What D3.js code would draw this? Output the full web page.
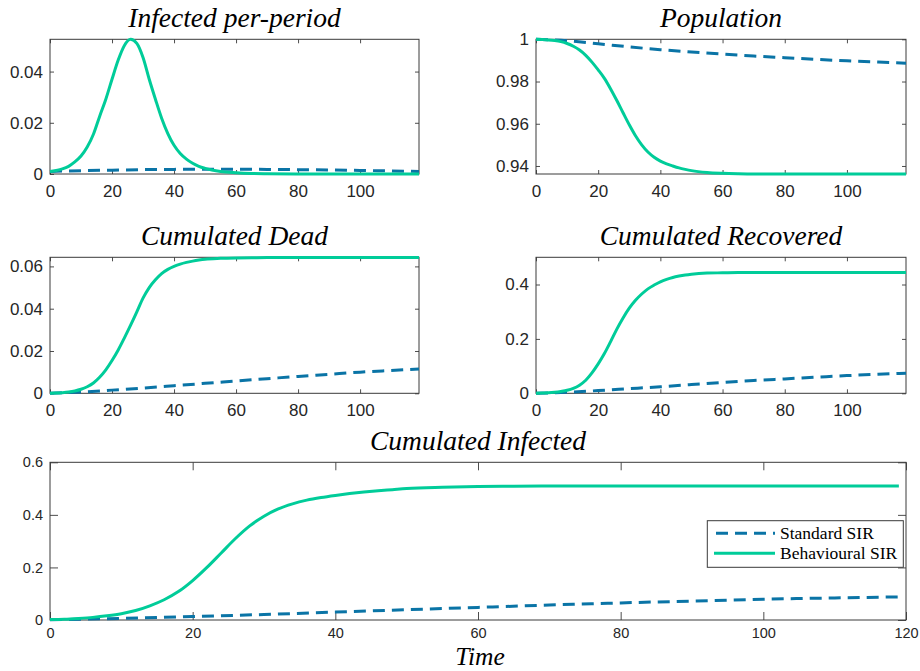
<!DOCTYPE html>
<html lang="en">
<head>
<meta charset="UTF-8">
<title>Standard vs Behavioural SIR</title>
<script src="https://cdn.jsdelivr.net/npm/d3@7"></script>
<style>
  body { margin: 0; background: #fff; }
  svg { display: block; }
  .tick text { font-family: "Liberation Sans", Arial, sans-serif; fill: #262626; }
  .tick line { stroke: #4d4d4d; }
  .title { font-family: "Liberation Serif", "DejaVu Serif", serif; font-style: italic; fill: #000; }
  .legend text { font-family: "Liberation Serif", "DejaVu Serif", serif; font-size: 17.5px; fill: #000; }
</style>
</head>
<body>
<div id="chart"></div>
<script>
// time grids (periods)
const tBeh = [0, 2, 4, 6, 8, 10, 12, 14, 16, 18, 20, 22, 24, 26, 28, 30, 32, 34, 36, 38,
              40, 42, 44, 46, 48, 50, 55, 60, 65, 70, 80, 90, 100, 110, 119]
const tStd = [0, 10, 20, 30, 40, 50, 60, 70, 80, 90, 100, 110, 119]

// Behavioural SIR (green)
const behInfected = [0.0010, 0.0014, 0.0020, 0.0030, 0.0047, 0.0070, 0.0105, 0.0155, 0.0225, 0.0292,
                     0.0370, 0.0445, 0.0502, 0.0526, 0.0510, 0.0455, 0.0370, 0.0292, 0.0218, 0.0158,
                     0.0112, 0.0080, 0.0058, 0.0042, 0.0030, 0.0022, 0.0010, 0.0005, 0.0002, 0.0001,
                     0.00003, 0.00001, 0, 0, 0]
const behPopulation = [1.0000, 0.9999, 0.9997, 0.9994, 0.9989, 0.9980, 0.9967, 0.9949, 0.9924, 0.9892,
                       0.9855, 0.9815, 0.9765, 0.9710, 0.9652, 0.9595, 0.9543, 0.9500, 0.9466, 0.9441,
                       0.9423, 0.9410, 0.9400, 0.9391, 0.9384, 0.9378, 0.9369, 0.9365, 0.9363, 0.9362,
                       0.9362, 0.9362, 0.9362, 0.9362, 0.9362]
const behDead = [0, 0.0001, 0.0003, 0.0006, 0.0011, 0.0019, 0.0031, 0.0049, 0.0076, 0.0111,
                 0.0155, 0.0205, 0.0262, 0.0322, 0.0385, 0.0450, 0.0500, 0.0537, 0.0566, 0.0586,
                 0.0600, 0.0611, 0.0619, 0.0625, 0.0630, 0.0634, 0.0638, 0.0640, 0.0641, 0.0642,
                 0.0642, 0.0642, 0.0642, 0.0642, 0.0642]
const behRecovered = [0, 0.001, 0.002, 0.004, 0.007, 0.011, 0.018, 0.030, 0.048, 0.075,
                      0.108, 0.146, 0.190, 0.236, 0.277, 0.313, 0.342, 0.365, 0.384, 0.398,
                      0.410, 0.419, 0.426, 0.431, 0.435, 0.438, 0.442, 0.443, 0.444, 0.444,
                      0.444, 0.444, 0.444, 0.444, 0.444]
const behCumInfected = [0.002, 0.003, 0.006, 0.010, 0.016, 0.024, 0.036, 0.054, 0.077, 0.108,
                        0.150, 0.200, 0.255, 0.310, 0.358, 0.395, 0.423, 0.442, 0.456, 0.466,
                        0.474, 0.481, 0.487, 0.492, 0.496, 0.500, 0.505, 0.508, 0.509, 0.510,
                        0.510, 0.510, 0.510, 0.510, 0.510]

// Standard SIR (blue dashed)
const stdInfected = [0.0010, 0.0013, 0.0015, 0.0017, 0.0018, 0.0019, 0.0019, 0.0018, 0.0017, 0.0016, 0.0014, 0.0012, 0.0010]
const stdPopulation = [1.0000, 0.9993, 0.9979, 0.9964, 0.9951, 0.9940, 0.9930, 0.9921, 0.9913, 0.9905, 0.9898, 0.9892, 0.9887]
const stdDead = [0, 0.0006, 0.0015, 0.0025, 0.0036, 0.0047, 0.0058, 0.0069, 0.0080, 0.0090, 0.0100, 0.0108, 0.0115]
const stdRecovered = [0, 0.004, 0.010, 0.017, 0.024, 0.032, 0.040, 0.047, 0.053, 0.059, 0.065, 0.070, 0.074]
const stdCumInfected = [0.001, 0.006, 0.013, 0.021, 0.030, 0.039, 0.048, 0.057, 0.065, 0.072, 0.079, 0.084, 0.088]

// tick values
const xTicksSmall = [0, 20, 40, 60, 80, 100]
const xTicksBig = [0, 20, 40, 60, 80, 100, 120]
const seriesNames = ['Standard SIR', 'Behavioural SIR']

const blue = '#0a74a6'
const green = '#00cc99'

let w = 920
let h = 671

let svg = d3.select('#chart').append('svg')
    .attr('width', w)
    .attr('height', h)

// panel layout
const panels = [
    {title: 'Infected per-period', beh: behInfected, std: stdInfected,
     x0: 50, x1: 419, y0: 39.3, y1: 174, xDom: [0, 119], yDom: [0, 0.0526],
     yTicks: [0, 0.02, 0.04], xTicks: xTicksSmall, tick: 4, fs: 17, pad: 10.5, titleY: 27},
    {title: 'Population', beh: behPopulation, std: stdPopulation,
     x0: 536, x1: 906, y0: 39.3, y1: 174, xDom: [0, 119], yDom: [0.9362, 1],
     yTicks: [0.94, 0.96, 0.98, 1], xTicks: xTicksSmall, tick: 4, fs: 17, pad: 10.5, titleY: 27},
    {title: 'Cumulated Dead', beh: behDead, std: stdDead,
     x0: 50, x1: 419, y0: 257.3, y1: 393.3, xDom: [0, 119], yDom: [0, 0.0643],
     yTicks: [0, 0.02, 0.04, 0.06], xTicks: xTicksSmall, tick: 4, fs: 17, pad: 10.5, titleY: 245},
    {title: 'Cumulated Recovered', beh: behRecovered, std: stdRecovered,
     x0: 536, x1: 906, y0: 257.3, y1: 393.3, xDom: [0, 119], yDom: [0, 0.5],
     yTicks: [0, 0.2, 0.4], xTicks: xTicksSmall, tick: 4, fs: 17, pad: 10.5, titleY: 245},
    {title: 'Cumulated Infected', beh: behCumInfected, std: stdCumInfected,
     x0: 50, x1: 906, y0: 462.3, y1: 620, xDom: [0, 120], yDom: [0, 0.6],
     yTicks: [0, 0.2, 0.4, 0.6], xTicks: xTicksBig, tick: 8, fs: 14.5, pad: 8, titleY: 450, legend: true}
]

const fmt = d3.format('~g')

panels.forEach(p => {
    let xScale = d3.scaleLinear().domain(p.xDom).range([p.x0, p.x1])
    let yScale = d3.scaleLinear().domain(p.yDom).range([p.y1, p.y0])
    let pw = p.x1 - p.x0
    let ph = p.y1 - p.y0

    let g = svg.append('g')

    // axes box background
    g.append('rect')
     .attr('x', p.x0).attr('y', p.y0)
     .attr('width', pw).attr('height', ph)
     .attr('fill', '#fff')

    // inside ticks, mirrored on all four sides
    g.append('g')
     .attr('transform', `translate(0, ${p.y1})`)
     .call(d3.axisBottom(xScale).tickValues(p.xTicks).tickFormat(fmt)
            .tickSize(-p.tick).tickSizeOuter(0).tickPadding(p.pad))
     .call(a => a.select('.domain').remove())
     .selectAll('text').attr('font-size', p.fs)
    g.append('g')
     .attr('transform', `translate(0, ${p.y0})`)
     .call(d3.axisTop(xScale).tickValues(p.xTicks).tickFormat('')
            .tickSize(-p.tick).tickSizeOuter(0))
     .call(a => a.select('.domain').remove())
    g.append('g')
     .attr('transform', `translate(${p.x0}, 0)`)
     .call(d3.axisLeft(yScale).tickValues(p.yTicks).tickFormat(fmt)
            .tickSize(-p.tick).tickSizeOuter(0).tickPadding(7))
     .call(a => a.select('.domain').remove())
     .selectAll('text').attr('font-size', p.fs)
    g.append('g')
     .attr('transform', `translate(${p.x1}, 0)`)
     .call(d3.axisRight(yScale).tickValues(p.yTicks).tickFormat('')
            .tickSize(-p.tick).tickSizeOuter(0))
     .call(a => a.select('.domain').remove())

    g.append('rect')
     .attr('x', p.x0).attr('y', p.y0)
     .attr('width', pw).attr('height', ph)
     .attr('fill', 'none')
     .attr('stroke', '#3a3a3a')
     .attr('stroke-width', 1)

    // lines
    let stdLine = d3.line()
        .x((d, i) => xScale(tStd[i]))
        .y(d => yScale(d))
        .curve(d3.curveMonotoneX)
    let behLine = d3.line()
        .x((d, i) => xScale(tBeh[i]))
        .y(d => yScale(d))
        .curve(d3.curveMonotoneX)

    g.append('path')
     .datum(p.std)
     .attr('d', stdLine)
     .attr('fill', 'none')
     .attr('stroke', blue)
     .attr('stroke-width', 3)
     .attr('stroke-dasharray', '12,7')
    g.append('path')
     .datum(p.beh)
     .attr('d', behLine)
     .attr('fill', 'none')
     .attr('stroke', green)
     .attr('stroke-width', 3)

    // title
    svg.append('text')
       .attr('class', 'title')
       .attr('x', (p.x0 + p.x1) / 2)
       .attr('y', p.titleY)
       .attr('text-anchor', 'middle')
       .attr('font-size', 27.5)
       .text(p.title)

    if (p.legend) {
        let lg = svg.append('g').attr('class', 'legend')
        lg.append('rect')
          .attr('x', 707.3).attr('y', 520.7)
          .attr('width', 196).attr('height', 46.6)
          .attr('fill', '#fff')
          .attr('stroke', '#3a3a3a')
          .attr('stroke-width', 1)
        seriesNames.forEach((name, i) => {
            let yy = 533.3 + i * 20
            let ln = lg.append('line')
              .attr('x1', 714).attr('x2', 775)
              .attr('y1', yy).attr('y2', yy)
              .attr('stroke', i === 0 ? blue : green)
              .attr('stroke-width', 3)
            if (i === 0) ln.attr('stroke-dasharray', '12,7').attr('stroke-dashoffset', -2)
            lg.append('text')
              .attr('x', 780)
              .attr('y', yy + 5.5)
              .text(name)
        })
    }
})

// x label
svg.append('text')
   .attr('class', 'title')
   .attr('x', 480)
   .attr('y', 665)
   .attr('text-anchor', 'middle')
   .attr('font-size', 25.5)
   .text('Time')
</script>
</body>
</html>
